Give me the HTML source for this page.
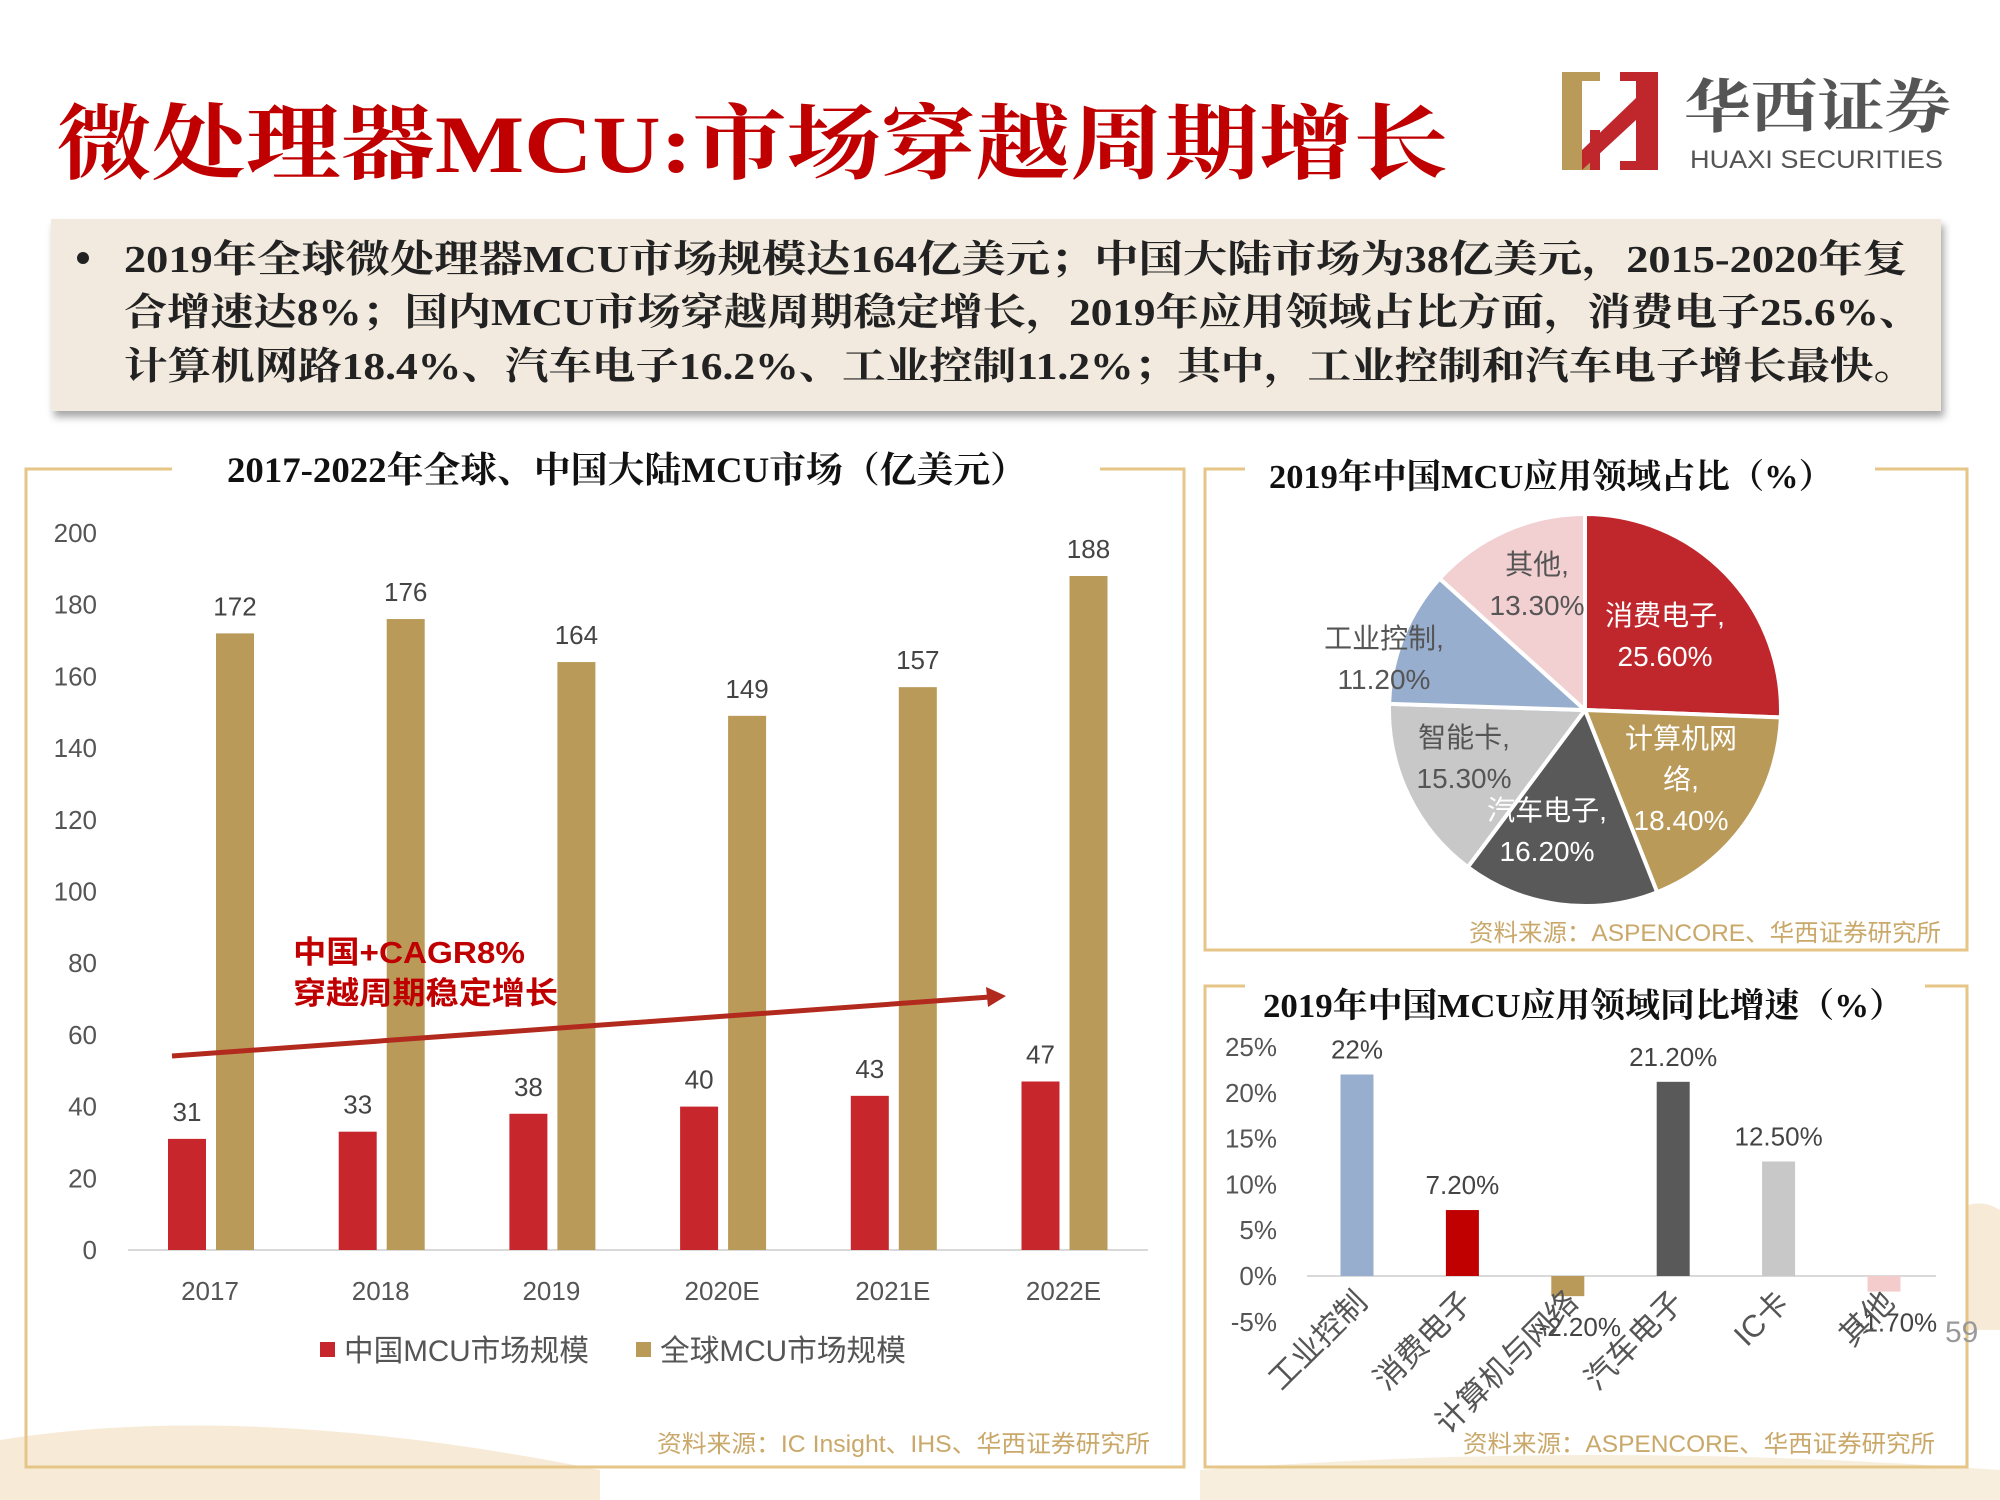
<!DOCTYPE html>
<html><head><meta charset="utf-8">
<style>
body{margin:0;background:#fff;}
svg{display:block;}
text{font-family:"Liberation Sans","Noto Sans CJK SC",sans-serif;}
.serif{font-family:"Liberation Serif","Noto Serif CJK SC",serif;font-weight:bold;}
</style></head>
<body>
<svg id="page" width="2000" height="1500" viewBox="0 0 2000 1500" xmlns="http://www.w3.org/2000/svg">
<defs>
<filter id="sh" x="-5%" y="-10%" width="110%" height="130%"><feDropShadow dx="3" dy="6" stdDeviation="4" flood-color="#000" flood-opacity="0.35"/></filter>
</defs>
<!-- decorative background -->
<path d="M0 1440 Q250 1400 600 1470 L600 1500 L0 1500Z" fill="#f4e3c6" opacity="0.7"/>
<path d="M1968 1205 Q1985 1200 2000 1210 L2000 1330 L1968 1330Z" fill="#f4e3c6" opacity="0.7"/>
<path d="M1200 1470 Q1600 1440 2000 1470 L2000 1500 L1200 1500Z" fill="#f4e3c6" opacity="0.6"/>

<!-- title -->
<text class="serif" x="57" y="172" font-size="82" fill="#c00000" textLength="1391" lengthAdjust="spacingAndGlyphs">微处理器MCU:市场穿越周期增长</text>

<!-- logo -->
<g>
<rect x="1562" y="72" width="20" height="98" fill="#b99a58"/>
<rect x="1562" y="72" width="38" height="9" fill="#b99a58"/>
<rect x="1562" y="161" width="38" height="9" fill="#b99a58"/>
<polygon points="1582,150 1636,98 1636,120 1582,170" fill="#c0272d"/>
<rect x="1636" y="72" width="22" height="98" fill="#c0272d"/>
<rect x="1620" y="72" width="38" height="9" fill="#c0272d"/>
<rect x="1620" y="161" width="38" height="9" fill="#c0272d"/>
<rect x="1590" y="130" width="10" height="40" fill="#c0272d"/>
<text x="1684" y="127" class="serif" font-size="58" fill="#555" textLength="267" lengthAdjust="spacingAndGlyphs">华西证券</text>
<text x="1690" y="168" font-size="25" fill="#555" textLength="253" lengthAdjust="spacingAndGlyphs">HUAXI SECURITIES</text>
</g>

<!-- summary box -->
<g>
<rect x="51" y="219" width="1890" height="192" fill="#f2eadf" filter="url(#sh)"/>
<circle cx="83" cy="258" r="6" fill="#222"/>
<text class="serif" x="124" y="272" font-size="38" fill="#222" textLength="1783" lengthAdjust="spacingAndGlyphs">2019年全球微处理器MCU市场规模达164亿美元；中国大陆市场为38亿美元，2015-2020年复</text>
<text class="serif" x="124" y="325" font-size="38" fill="#222" textLength="1798" lengthAdjust="spacingAndGlyphs">合增速达8%；国内MCU市场穿越周期稳定增长，2019年应用领域占比方面，消费电子25.6%、</text>
<text class="serif" x="124" y="379" font-size="38" fill="#222" textLength="1793" lengthAdjust="spacingAndGlyphs">计算机网路18.4%、汽车电子16.2%、工业控制11.2%；其中，工业控制和汽车电子增长最快。</text>
</g>

<!-- panels -->
<g fill="none" stroke="#e5c687" stroke-width="3">
<path d="M172 469 H26 V1467 H1184 V469 H1100"/>
<path d="M1245 469 H1205 V950 H1967 V469 H1875"/>
<path d="M1245 986 H1205 V1467 H1967 V986 H1925"/>
</g>
<text class="serif" x="227" y="482" font-size="36" fill="#111" textLength="800" lengthAdjust="spacingAndGlyphs">2017-2022年全球、中国大陆MCU市场（亿美元）</text>
<text class="serif" x="1269" y="488" font-size="34" fill="#111" textLength="564" lengthAdjust="spacingAndGlyphs">2019年中国MCU应用领域占比（%）</text>
<text class="serif" x="1263" y="1017" font-size="34" fill="#111" textLength="641" lengthAdjust="spacingAndGlyphs">2019年中国MCU应用领域同比增速（%）</text>

<g id="barChart"></g>
<g id="pieChart"></g>
<g id="growthChart"></g>

<text x="657" y="1452" font-size="24" fill="#c9a86a" textLength="493" lengthAdjust="spacingAndGlyphs">资料来源：IC Insight、IHS、华西证券研究所</text>
<text x="1469" y="941" font-size="24" fill="#c9a86a" textLength="472" lengthAdjust="spacingAndGlyphs">资料来源：ASPENCORE、华西证券研究所</text>
<text x="1463" y="1452" font-size="24" fill="#c9a86a" textLength="472" lengthAdjust="spacingAndGlyphs">资料来源：ASPENCORE、华西证券研究所</text>
<text x="1945" y="1342" font-size="30" fill="#999">59</text>
</svg>
<script>
const NS='http://www.w3.org/2000/svg';
function mk(parent,tag,attrs,txt){const e=document.createElementNS(NS,tag);for(const k in attrs)e.setAttribute(k,attrs[k]);if(txt!==undefined)e.textContent=txt;parent.appendChild(e);return e;}

// ---- bar chart data ----
const years=['2017','2018','2019','2020E','2021E','2022E'];
const chinaMCU=[31,33,38,40,43,47];
const globalMCU=[172,176,164,149,157,188];
const yTicks=[0,20,40,60,80,100,120,140,160,180,200];

// ---- pie data ----
const pieLabels=['消费电子','计算机网络','汽车电子','智能卡','工业控制','其他'];
const pieValues=[25.6,18.4,16.2,15.3,11.2,13.3];
const pieValueLabels=['25.60%','18.40%','16.20%','15.30%','11.20%','13.30%'];

// ---- growth data ----
const growthCats=['工业控制','消费电子','计算机与网络','汽车电子','IC卡','其他'];
const growthValues=[22,7.2,-2.2,21.2,12.5,-1.7];
const growthLabels=['22%','7.20%','-2.20%','21.20%','12.50%','-1.70%'];
const growthTicks=[-5,0,5,10,15,20,25];

// bar chart
(function(){
 const g=document.getElementById('barChart');
 const y0=1250,y1=533,vmax=200;
 const y=v=>y0-(v/vmax)*(y0-y1);
 const cx0=210,step=170.7;
 const x=i=>cx0+i*step;
 yTicks.forEach(t=>{const e=mk(g,'text',{x:97,y:y(t)+9,'font-size':26,fill:'#555','text-anchor':'end'},String(t));
  
  });
 const ax=mk(g,'line',{x1:128,x2:1148,y1:y0,y2:y0,stroke:'#d9d9d9','stroke-width':2});
 
 
 years.forEach((yr,i)=>{
  const c=x(i);
  const r=mk(g,'rect',{x:c-23-19,y:y(chinaMCU[i]),width:38,height:y0-y(chinaMCU[i]),fill:'#c8262d'});
  
  
  const b=mk(g,'rect',{x:c+25-19,y:y(globalMCU[i]),width:38,height:y0-y(globalMCU[i]),fill:'#b99a58'});
  
  
  const l1=mk(g,'text',{x:c-23,y:y(chinaMCU[i])-18,'font-size':26,fill:'#444','text-anchor':'middle'},String(chinaMCU[i]));
  
  
  const l2=mk(g,'text',{x:c+25,y:y(globalMCU[i])-18,'font-size':26,fill:'#444','text-anchor':'middle'},String(globalMCU[i]));
  
  
  const xl=mk(g,'text',{x:c,y:1300,'font-size':26,fill:'#555','text-anchor':'middle'},yr);
  
  
 });
 const lg=mk(g,'g',{});
 
 
 mk(lg,'rect',{x:320,y:1342,width:15,height:15,fill:'#c8262d'});
 const t1=mk(lg,'text',{x:344,y:1361,'font-size':30,fill:'#555',textLength:245,lengthAdjust:'spacingAndGlyphs'},'中国MCU市场规模');
 
 
 mk(lg,'rect',{x:636,y:1342,width:15,height:15,fill:'#b99a58'});
 const t2=mk(lg,'text',{x:660,y:1361,'font-size':30,fill:'#555',textLength:246,lengthAdjust:'spacingAndGlyphs'},'全球MCU市场规模');
 
 
 const ar=mk(g,'line',{x1:172,y1:1056,x2:990,y2:997,stroke:'#b22a1e','stroke-width':5});
 
 
 mk(g,'polygon',{points:'1006,996 986,987 988,1007',fill:'#b22a1e'});
 const a1=mk(g,'text',{x:293,y:963,'font-size':31,'font-weight':'bold',fill:'#c00000',textLength:232,lengthAdjust:'spacingAndGlyphs'},'中国+CAGR8%');
 
 
 const a2=mk(g,'text',{x:293,y:1004,'font-size':31,'font-weight':'bold',fill:'#c00000',textLength:265,lengthAdjust:'spacingAndGlyphs'},'穿越周期稳定增长');
 
 
})();

// pie chart
(function(){
 const g=document.getElementById('pieChart');
 const cx=1585,cy=710,r=196;
 const colors=['#c0272d','#b99a58','#595959','#c8c8c8','#98aece','#f2cfd1'];
 const textColors=['#fff','#fff','#fff','#555','#555','#555'];
 const labelPos=[[1665,625,0],[1681,748,1],[1547,820,0],[1464,747,0],[1384,648,0],[1537,574,0]];
 const total=pieValues.reduce((a,b)=>a+b,0);
 let a=-Math.PI/2;
 pieValues.forEach((v,i)=>{
  const a2=a+v/total*2*Math.PI;
  const x1=cx+r*Math.cos(a),y1=cy+r*Math.sin(a),x2=cx+r*Math.cos(a2),y2=cy+r*Math.sin(a2);
  const large=(a2-a)>Math.PI?1:0;
  const p=mk(g,'path',{d:`M${cx} ${cy} L${x1} ${y1} A${r} ${r} 0 ${large} 1 ${x2} ${y2}Z`,fill:colors[i],stroke:'#fff','stroke-width':4});
  
  
  a=a2;
 });
 pieLabels.forEach((lab,i)=>{
  const [lx,ly,split]=labelPos[i];
  const lines=split?['计算机网','络,',pieValueLabels[i]]:[lab+',',pieValueLabels[i]];
  lines.forEach((ln,j)=>{
   const t=mk(g,'text',{x:lx,y:ly+j*41,'font-size':28,fill:textColors[i],'text-anchor':'middle'},ln);
   
   
  });
 });
})();

// growth chart
(function(){
 const g=document.getElementById('growthChart');
 const y0=1276,per5=45.8;
 const y=v=>y0-v/5*per5;
 const cx0=1357,step=105.4;
 const x=i=>cx0+i*step;
 const colors=['#98aece','#c00000','#b99a58','#595959','#c8c8c8','#f4cccc'];
 growthTicks.forEach(t=>{const e=mk(g,'text',{x:1277,y:y(t)+9,'font-size':26,fill:'#555','text-anchor':'end'},t+'%');
  
  });
 const ax=mk(g,'line',{x1:1307,x2:1936,y1:y0,y2:y0,stroke:'#d9d9d9','stroke-width':2});
 
 
 growthValues.forEach((v,i)=>{
  const c=x(i);
  const top=Math.min(y(v),y0),h=Math.abs(y(v)-y0);
  const b=mk(g,'rect',{x:c-16.5,y:top,width:33,height:h,fill:colors[i]});
  
  
  const ly=v>=0?y(v)-16:y(v)+40;
  const l=mk(g,'text',{x:c+(v>=0?0:12),y:ly,'font-size':26,fill:'#444','text-anchor':'middle'},growthLabels[i]);
  
  
  const cl=mk(g,'text',{x:c+12,y:1304,'font-size':31,fill:'#555','text-anchor':'end',transform:`rotate(-45 ${c+12} 1304)`},growthCats[i]);
  
  
 });
})();
</script>
</body></html>
